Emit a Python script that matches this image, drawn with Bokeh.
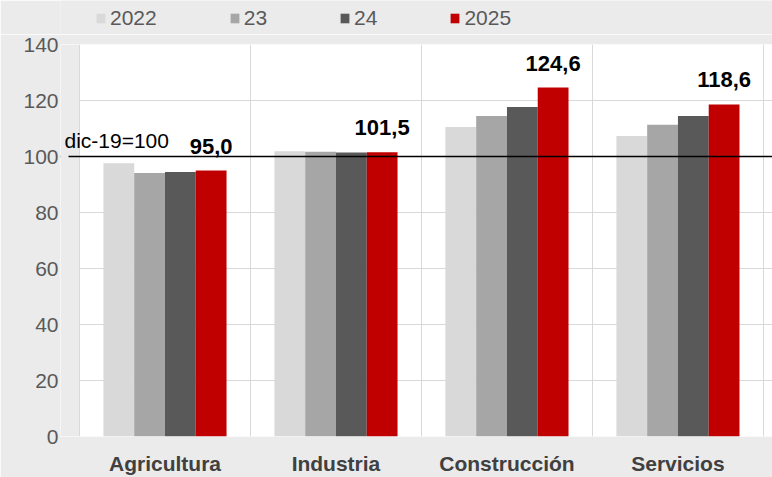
from bokeh.plotting import figure
from bokeh.layouts import column
from bokeh.models import (ColumnDataSource, FixedTicker, Span, Label, Legend, LegendItem,
                          BoxAnnotation)
from bokeh.core.properties import value
from bokeh.embed import file_html
from bokeh.resources import INLINE

categories = ["Agricultura", "Industria", "Construcción", "Servicios"]
series_names = ["2022", "23", "24", "2025"]
v2022 = [97.6, 101.9, 110.5, 107.3]
v2023 = [94.1, 101.7, 114.5, 111.3]
v2024 = [94.5, 101.4, 117.7, 114.5]
v2025 = [95.0, 101.5, 124.6, 118.6]
y_ticks = [0, 20, 40, 60, 80, 100, 120, 140]
base_label = "dic-19=100"
base_value = 100

colors = ["#d9d9d9", "#a6a6a6", "#595959", "#c00000"]
BG = "#ebebeb"
FONT = "Liberation Sans"

# ---------- legend strip ----------
lg = figure(width=772, height=34, output_backend="svg", toolbar_location=None,
            x_axis_type=None, y_axis_type=None, x_range=(0, 1), y_range=(0, 1),
            min_border_left=0, min_border_right=0, min_border_top=0, min_border_bottom=0)
lg.background_fill_color = BG
lg.border_fill_color = BG
lg.outline_line_color = None
lg.xgrid.visible = False
lg.ygrid.visible = False
dummy = []
for col in colors:
    # zero-size placeholder glyph, used only for the legend swatch
    dummy.append(lg.vbar(x=[0.0], top=[0.0], bottom=0.0, width=0.0, fill_color=col, line_color=None))
legend = Legend(items=[LegendItem(label=n, renderers=[r]) for n, r in zip(series_names, dummy)],
                orientation="horizontal", location=(35, 4),
                label_text_font=FONT, label_text_font_size="21px", label_text_color="#595959",
                glyph_width=11, glyph_height=12, label_standoff=4, spacing=72,
                padding=0, margin=0, background_fill_alpha=0, border_line_color=None)
lg.add_layout(legend, "center")

# ---------- main chart ----------
p = figure(width=772, height=443, output_backend="svg", toolbar_location=None,
           x_range=(-0.1111, 4.053), y_range=(0, 140),
           min_border_left=60, min_border_right=0, min_border_top=10, min_border_bottom=39)
p.background_fill_color = "white"
p.border_fill_color = BG
p.outline_line_color = None

centers = [i + 0.5 for i in range(len(categories))]
offsets = [-0.27, -0.09, 0.09, 0.27]
bw = 0.18

# gray strip left of the category area
p.add_layout(BoxAnnotation(right=-0.003, fill_color=BG, fill_alpha=1.0, line_alpha=0, level="glyph"))

for name, vals, off, col in zip(series_names, [v2022, v2023, v2024, v2025], offsets, colors):
    src = ColumnDataSource(dict(x=[c + off for c in centers], top=vals))
    p.vbar(x="x", top="top", width=bw, bottom=0, source=src, fill_color=col, line_color=None)

# data labels on 2025 bars
lbl_src = ColumnDataSource(dict(x=[c + offsets[3] for c in centers], y=v2025,
                                t=[f"{v:.1f}".replace(".", ",") for v in v2025]))
p.text(x="x", y="y", text="t", source=lbl_src, text_align="center", text_baseline="bottom",
       y_offset=-17, text_font=value(FONT), text_font_style="bold", text_font_size="22px",
       text_color="black")

p.add_layout(Span(location=base_value, dimension="width", line_color="black", line_width=1.3,
                  level="overlay"))
# the reference line starts a little left of the category area
p.add_layout(BoxAnnotation(right=-0.0643, bottom=base_value - 0.8, top=base_value + 0.8,
                           fill_color=BG, fill_alpha=1.0, line_alpha=0, level="overlay"))
p.add_layout(Label(x=-0.088, y=base_value, text=base_label, text_font=FONT, text_font_size="21px",
                   text_color="black", text_baseline="bottom", y_offset=5))

# axes
p.yaxis.ticker = FixedTicker(ticks=y_ticks)
p.yaxis.axis_line_color = None
p.yaxis.major_tick_line_color = None
p.yaxis.major_tick_out = 0
p.yaxis.major_tick_in = 0
p.yaxis.minor_tick_line_color = None
p.yaxis.major_label_standoff = 2
p.yaxis.major_label_text_font = FONT
p.yaxis.major_label_text_font_size = "21px"
p.yaxis.major_label_text_color = "#595959"

p.xaxis.ticker = FixedTicker(ticks=centers)
p.xaxis.major_label_overrides = {c: n for c, n in zip(centers, categories)}
p.xaxis.axis_line_color = None
p.xaxis.major_tick_line_color = None
p.xaxis.major_tick_out = 0
p.xaxis.major_tick_in = 0
p.xaxis.minor_tick_line_color = None
p.xaxis.major_label_standoff = 15
p.xaxis.major_label_text_font = FONT
p.xaxis.major_label_text_font_style = "bold"
p.xaxis.major_label_text_font_size = "21px"
p.xaxis.major_label_text_color = "#404040"

p.ygrid.ticker = FixedTicker(ticks=y_ticks)
p.ygrid.grid_line_color = "#d9d9d9"
p.xgrid.ticker = FixedTicker(ticks=[0, 1, 2, 3, 4])
p.xgrid.grid_line_color = "#d9d9d9"

layout = column(lg, p, spacing=0)
open("out.html", "w").write(file_html(layout, INLINE))
